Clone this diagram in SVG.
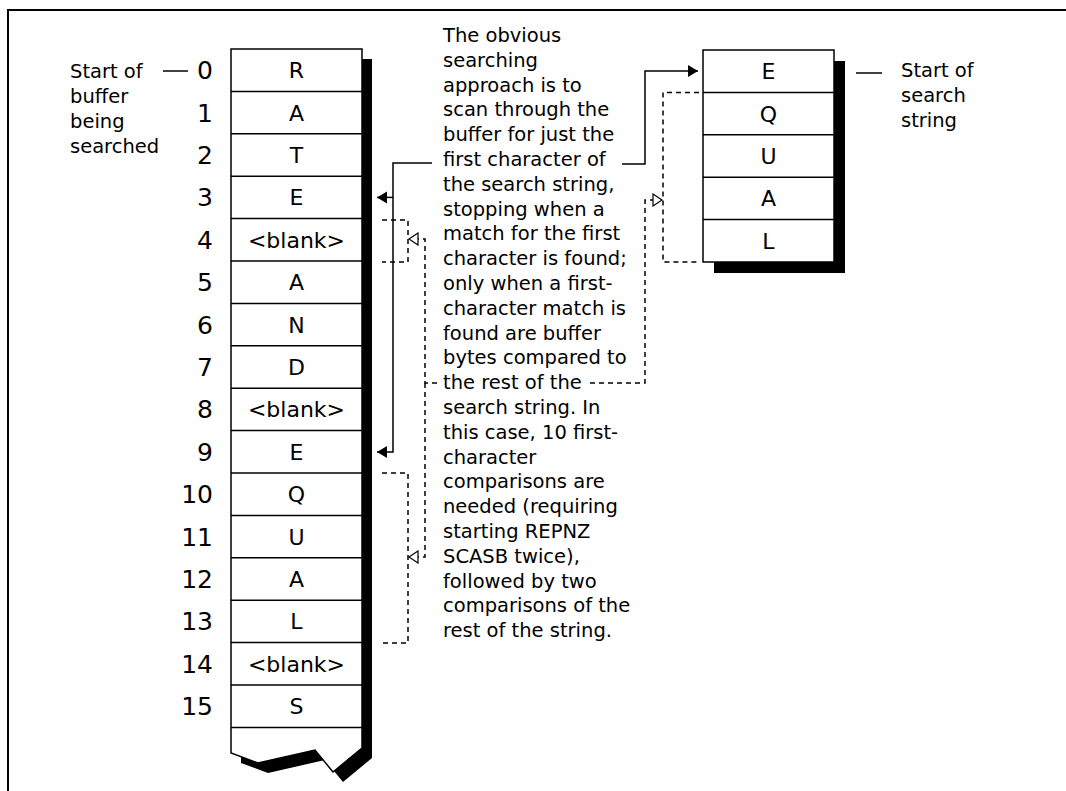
<svg xmlns="http://www.w3.org/2000/svg" width="1066" height="791" viewBox="0 0 1066 791">
<style>
  .t{font-family:"DejaVu Sans",sans-serif;font-size:19.5px;fill:#000}
  .cell{font-family:"DejaVu Sans",sans-serif;font-size:22px;text-anchor:middle;fill:#000}
  .num{font-family:"DejaVu Sans",sans-serif;font-size:25px;text-anchor:end;fill:#000}
  .ln{stroke:#000;stroke-width:1.5;fill:none}
  .dash{stroke-dasharray:5 4}
  .box{fill:#fff;stroke:#000;stroke-width:1.5}
  .shadow{fill:#000}
</style>
<defs>
  <marker id="ah" viewBox="0 0 10 12" refX="10" refY="6" markerWidth="10" markerHeight="13" markerUnits="userSpaceOnUse" orient="auto">
    <path d="M0,0 L10,6 L0,12 Z" fill="#000"/>
  </marker>
  <marker id="oh" viewBox="0 0 11 14" refX="10" refY="7" markerWidth="11" markerHeight="14" markerUnits="userSpaceOnUse" orient="auto">
    <path d="M1,1 L10,7 L1,13 Z" fill="#fff" stroke="#000" stroke-width="1.2"/>
  </marker>
</defs>
<rect width="1066" height="791" fill="#fff"/>
<g id="frame">
  <path d="M8,791 V10 H1066" stroke="#000" stroke-width="2" fill="none"/>
</g>

<g id="buffer-label">
  <text class="t"><tspan x="70" y="78">Start of</tspan><tspan x="70" y="103">buffer</tspan><tspan x="70" y="128">being</tspan><tspan x="70" y="153">searched</tspan></text>
</g>

<g id="buffer">
  <path class="shadow" d="M241,59 H372 V758 L343,782 L325,760 L268,773 L241,763 Z"/>
  <path class="box" d="M231,49 H362 V748 L333,772 L315,750 L258,763 L231,753 Z"/>
  <path class="ln" d="M231,91.4H362M231,133.8H362M231,176.2H362M231,218.6H362M231,261H362M231,303.4H362M231,345.8H362M231,388.2H362M231,430.6H362M231,473H362M231,515.4H362M231,557.8H362M231,600.2H362M231,642.6H362M231,685H362M231,727.4H362"/>
  <g id="cell-0"><text class="num" x="213" y="79.2">0</text><text class="cell" x="296.5" y="78.2">R</text></g>
  <g id="cell-1"><text class="num" x="213" y="121.6">1</text><text class="cell" x="296.5" y="120.6">A</text></g>
  <g id="cell-2"><text class="num" x="213" y="164">2</text><text class="cell" x="296.5" y="163">T</text></g>
  <g id="cell-3"><text class="num" x="213" y="206.4">3</text><text class="cell" x="296.5" y="205.4">E</text></g>
  <g id="cell-4"><text class="num" x="213" y="248.8">4</text><text class="cell" x="296.5" y="247.8">&lt;blank&gt;</text></g>
  <g id="cell-5"><text class="num" x="213" y="291.2">5</text><text class="cell" x="296.5" y="290.2">A</text></g>
  <g id="cell-6"><text class="num" x="213" y="333.6">6</text><text class="cell" x="296.5" y="332.6">N</text></g>
  <g id="cell-7"><text class="num" x="213" y="376">7</text><text class="cell" x="296.5" y="375">D</text></g>
  <g id="cell-8"><text class="num" x="213" y="418.4">8</text><text class="cell" x="296.5" y="417.4">&lt;blank&gt;</text></g>
  <g id="cell-9"><text class="num" x="213" y="460.8">9</text><text class="cell" x="296.5" y="459.8">E</text></g>
  <g id="cell-10"><text class="num" x="213" y="503.2">10</text><text class="cell" x="296.5" y="502.2">Q</text></g>
  <g id="cell-11"><text class="num" x="213" y="545.6">11</text><text class="cell" x="296.5" y="544.6">U</text></g>
  <g id="cell-12"><text class="num" x="213" y="588">12</text><text class="cell" x="296.5" y="587">A</text></g>
  <g id="cell-13"><text class="num" x="213" y="630.4">13</text><text class="cell" x="296.5" y="629.4">L</text></g>
  <g id="cell-14"><text class="num" x="213" y="672.8">14</text><text class="cell" x="296.5" y="671.8">&lt;blank&gt;</text></g>
  <g id="cell-15"><text class="num" x="213" y="715.2">15</text><text class="cell" x="296.5" y="714.2">S</text></g>
</g>

<g id="note">
  <text class="t">
    <tspan x="443" y="42">The obvious</tspan>
    <tspan x="443" dy="24.8">searching</tspan>
    <tspan x="443" dy="24.8">approach is to</tspan>
    <tspan x="443" dy="24.8">scan through the</tspan>
    <tspan x="443" dy="24.8">buffer for just the</tspan>
    <tspan x="443" dy="24.8">first character of</tspan>
    <tspan x="443" dy="24.8">the search string,</tspan>
    <tspan x="443" dy="24.8">stopping when a</tspan>
    <tspan x="443" dy="24.8">match for the first</tspan>
    <tspan x="443" dy="24.8">character is found;</tspan>
    <tspan x="443" dy="24.8">only when a first-</tspan>
    <tspan x="443" dy="24.8">character match is</tspan>
    <tspan x="443" dy="24.8">found are buffer</tspan>
    <tspan x="443" dy="24.8">bytes compared to</tspan>
    <tspan x="443" dy="24.8">the rest of the</tspan>
    <tspan x="443" dy="24.8">search string. In</tspan>
    <tspan x="443" dy="24.8">this case, 10 first-</tspan>
    <tspan x="443" dy="24.8">character</tspan>
    <tspan x="443" dy="24.8">comparisons are</tspan>
    <tspan x="443" dy="24.8">needed (requiring</tspan>
    <tspan x="443" dy="24.8">starting REPNZ</tspan>
    <tspan x="443" dy="24.8">SCASB twice),</tspan>
    <tspan x="443" dy="24.8">followed by two</tspan>
    <tspan x="443" dy="24.8">comparisons of the</tspan>
    <tspan x="443" dy="24.8">rest of the string.</tspan>
  </text>
</g>

<g id="search-string">
  <rect class="shadow" x="714" y="61" width="131" height="212"/>
  <rect class="box" x="703" y="50" width="131" height="212"/>
  <path class="ln" d="M703,92.4H834M703,134.8H834M703,177.2H834M703,219.6H834"/>
  <text class="cell" x="768.5" y="79.2">E</text>
  <text class="cell" x="768.5" y="121.6">Q</text>
  <text class="cell" x="768.5" y="164">U</text>
  <text class="cell" x="768.5" y="206.4">A</text>
  <text class="cell" x="768.5" y="248.8">L</text>
</g>

<g id="search-label">
  <text class="t"><tspan x="901" y="77">Start of</tspan><tspan x="901" y="102">search</tspan><tspan x="901" y="127">string</tspan></text>
</g>

<g id="connectors">
  <path class="ln" d="M163,71H188"/>
  <path class="ln" d="M856,73H882"/>
  <path class="ln" d="M622,164H645V71H698" marker-end="url(#ah)"/>
  <path class="ln" d="M432,163H393V452H377" marker-end="url(#ah)"/>
  <path class="ln" d="M393,197.4H377" marker-end="url(#ah)"/>
  <path class="ln dash" d="M382,220H408V262H382"/>
  <path class="ln dash" d="M382,473H408V643H382"/>
  <path class="ln dash" d="M699,92.4H663V262H699"/>
  <path class="ln dash" d="M437,383H425V239H409" marker-end="url(#oh)"/>
  <path class="ln dash" d="M425,383V557H409" marker-end="url(#oh)"/>
  <path class="ln dash" d="M590,383H645V200H662" marker-end="url(#oh)"/>
</g>
</svg>
